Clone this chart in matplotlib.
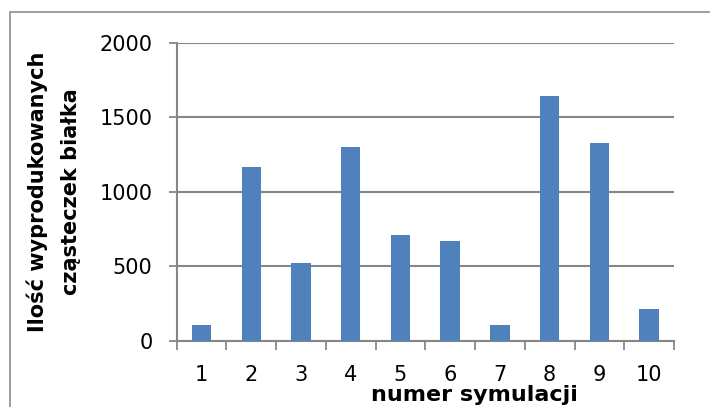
import matplotlib
matplotlib.use("Agg")
import matplotlib.pyplot as plt
from matplotlib.patches import Rectangle

categories = ["1", "2", "3", "4", "5", "6", "7", "8", "9", "10"]
values = [105, 1165, 521, 1300, 708, 670, 110, 1645, 1327, 212]
yticks = [0, 500, 1000, 1500, 2000]

plt.rcParams['font.family'] = ['DejaVu Sans']

fig = plt.figure(figsize=(7.10, 4.07), dpi=100)
W, H = 710, 407
# outer chart frame
fig.patches.append(Rectangle((10 / W, -0.05), 1.2, 1 - 12 / H + 0.05,
                             transform=fig.transFigure, fill=False,
                             edgecolor='#8c8c8c', linewidth=1.2))

ax = fig.add_axes([176.6 / W, 1 - 341 / H, (674 - 176.6) / W, (341 - 42.7) / H])
x = list(range(len(categories)))
ax.bar(x, values, width=0.39, color='#4F81BD', zorder=3)
ax.set_xlim(-0.5, len(categories) - 0.5)
ax.set_ylim(0, 2000)
ax.set_yticks(yticks)
ax.set_yticklabels([str(v) for v in yticks], fontsize=15)
ax.yaxis.grid(True, color='#868686', linewidth=1.5, zorder=0)
ax.set_axisbelow(True)

# category boundary ticks
ax.set_xticks([i - 0.5 for i in range(len(categories) + 1)])
ax.set_xticklabels([])
ax.set_xticks(x, minor=True)
ax.set_xticklabels(categories, minor=True, fontsize=15)
ax.tick_params(axis='x', which='major', length=6.5, width=1.3, color='#868686', direction='out')
ax.tick_params(axis='x', which='minor', length=0, pad=17)
ax.tick_params(axis='y', length=5.8, width=1.3, color='#868686', pad=11.5)

for s in ['top', 'right']:
    ax.spines[s].set_visible(False)
for s in ['left', 'bottom']:
    ax.spines[s].set_color('#868686')
    ax.spines[s].set_linewidth(1.5)

fig.text(37 / W, 1 - 192 / H, "Ilość wyprodukowanych", rotation=90,
         ha='center', va='center', fontsize=15, fontweight='bold')
fig.text(71 / W, 1 - 192 / H, "cząsteczek białka", rotation=90,
         ha='center', va='center', fontsize=15, fontweight='bold')
fig.text(474.5 / W, 1 - 401 / H, "numer symulacji", ha='center', va='baseline',
         fontsize=16, fontweight='bold')

fig.savefig("out.png", dpi=100)
